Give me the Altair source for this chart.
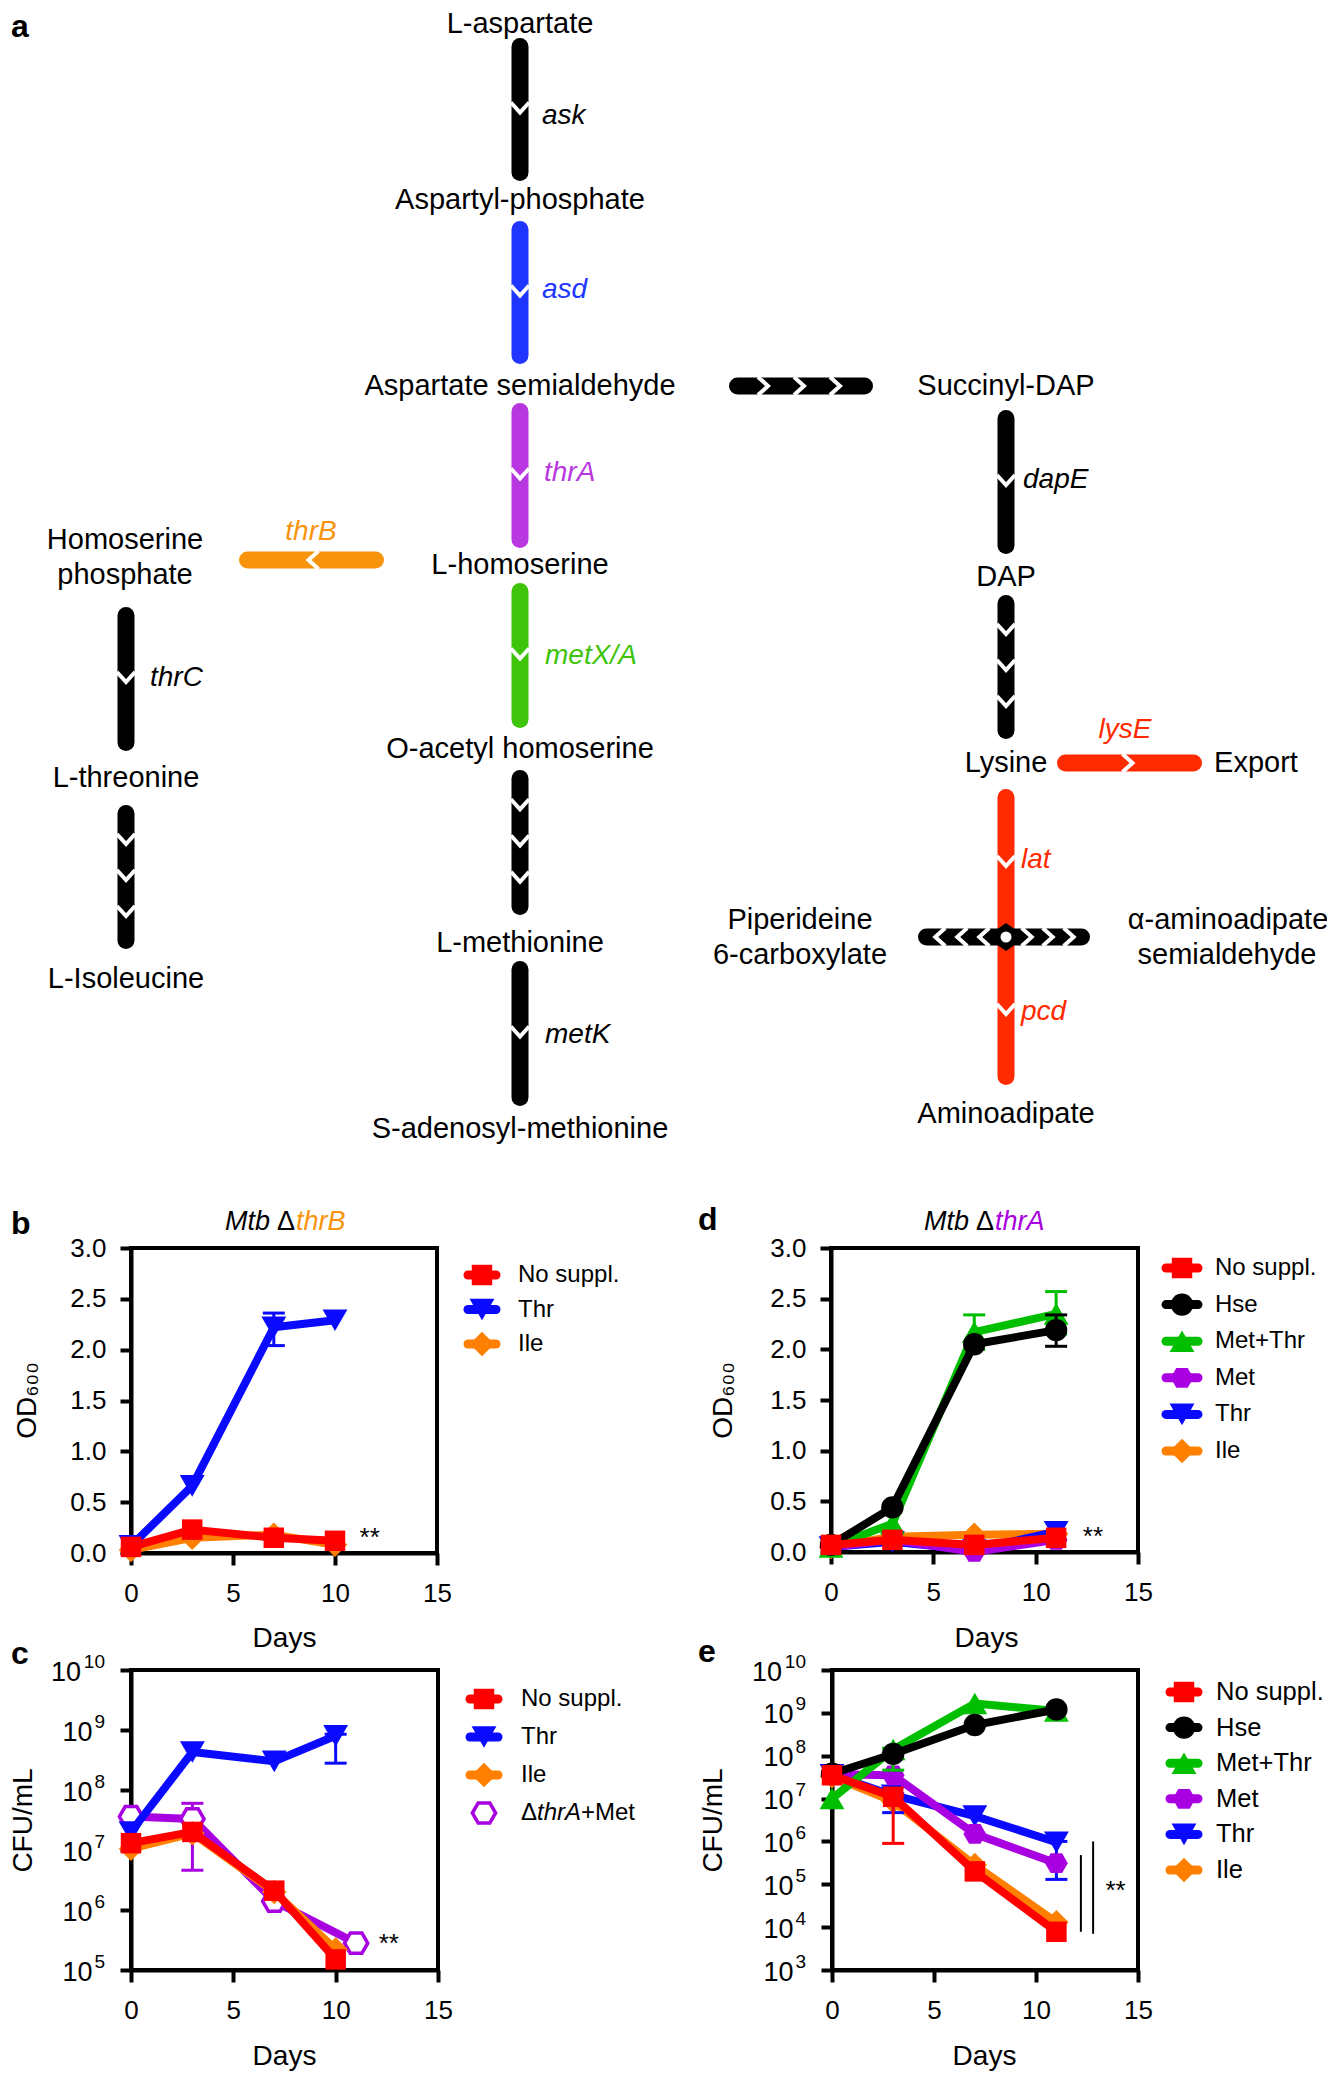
import altair as alt
import pandas as pd
import math

FONT = "Liberation Sans, Arial, Helvetica, sans-serif"
OFF = 8                 # page margin
W, H = 1319, 2065       # drawing area (reference minus margins)

RED = "#ff0000"
BLUE = "#0a0aff"
ORANGE = "#ff8000"
GREEN = "#00bf00"
PURPLE = "#a800e0"
BLACK = "#000000"
C_ASD = "#2035ff"
C_THRA = "#b837e0"
C_METX = "#3ec40a"
C_THRB = "#f7940c"
C_LYS = "#ff2a00"

# ======================= values =======================
X_DOMAIN = [0, 15]
X_TICKS = [0, 5, 10, 15]
OD_DOMAIN = [0, 3]
OD_TICKS = [0, 0.5, 1.0, 1.5, 2.0, 2.5, 3.0]
C_DOMAIN = [1e5, 1e10]
C_TICKS = [1e5, 1e6, 1e7, 1e8, 1e9, 1e10]
C_TICK_BASE = ["10"] * 6
C_TICK_EXP = ["5", "6", "7", "8", "9", "10"]
E_DOMAIN = [1e3, 1e10]
E_TICKS = [1e3, 1e4, 1e5, 1e6, 1e7, 1e8, 1e9, 1e10]
E_TICK_BASE = ["10"] * 8
E_TICK_EXP = ["3", "4", "5", "6", "7", "8", "9", "10"]

# panel b  (Mtb ΔthrB, OD600)
B_SERIES = ["No suppl.", "Thr", "Ile"]
B_DAYS = [0, 3, 7, 10]
B_NO_SUPPL = [0.06, 0.23, 0.15, 0.12]
B_THR = [0.07, 0.66, 2.22, 2.29]
B_ILE = [0.03, 0.15, 0.18, 0.08]
B_ERRORS = [("Thr", 7, 2.04, 2.36)]
B_STARS = [(11.7, 0.22)]

# panel c  (ΔthrB, CFU/mL)
C_SERIES = ["No suppl.", "Thr", "Ile", "ΔthrA+Met"]
C_DAYS = [0, 3, 7, 10]
C_DAYS_THRA = [0, 3, 7, 11]
C_NO_SUPPL = [1.3e7, 2.0e7, 2.1e6, 1.5e5]
C_THR = [2.0e7, 4.3e8, 3.0e8, 8.0e8]
C_ILE = [1.05e7, 1.9e7, 2.0e6, 2.2e5]
C_THRA_MET = [3.6e7, 3.3e7, 1.4e6, 2.8e5]
C_ERRORS = [("Thr", 10, 2.8e8, 8.5e8), ("ΔthrA+Met", 3, 4.6e6, 6.0e7)]
C_STARS = [(12.6, 3.5e5)]

# panel d  (Mtb ΔthrA, OD600)
D_SERIES = ["No suppl.", "Hse", "Met+Thr", "Met", "Thr", "Ile"]
D_DAYS = [0, 3, 7, 11]
D_NO_SUPPL = [0.07, 0.12, 0.07, 0.14]
D_HSE = [0.07, 0.44, 2.05, 2.19]
D_MET_THR = [0.05, 0.28, 2.17, 2.35]
D_MET = [0.05, 0.12, 0.00, 0.12]
D_THR = [0.05, 0.10, 0.02, 0.20]
D_ILE = [0.05, 0.15, 0.17, 0.18]
D_ERRORS = [("Hse", 11, 2.03, 2.34), ("Met+Thr", 7, 2.0, 2.34), ("Met+Thr", 11, 2.15, 2.57)]
D_STARS = [(12.8, 0.22)]

# panel e  (ΔthrA, CFU/mL)
E_SERIES = ["No suppl.", "Hse", "Met+Thr", "Met", "Thr", "Ile"]
E_DAYS = [0, 3, 7, 11]
E_NO_SUPPL = [3.5e7, 1.1e7, 2.0e5, 7.8e3]
E_HSE = [3.8e7, 1.1e8, 5.2e8, 1.2e9]
E_MET_THR = [1.0e7, 1.4e8, 1.65e9, 1.1e9]
E_MET = [3.7e7, 3.5e7, 1.5e6, 3.1e5]
E_THR = [3.6e7, 1.2e7, 3.9e6, 9.6e5]
E_ILE = [3.3e7, 8.5e6, 2.8e5, 1.3e4]
E_ERRORS = [("No suppl.", 3, 9.0e5, 1.2e7), ("Met+Thr", 3, 4.6e7, 1.5e8),
            ("Thr", 3, 4.7e6, 1.3e7), ("Thr", 11, 1.3e5, 1.0e6)]
E_SIG = [(12.2, 7.8e3, 4.8e5), (12.8, 7.0e3, 1.0e6)]
E_STARS = [(13.9, 1.0e5)]

# pathway (panel a)
NODE_LABELS = ["L-aspartate", "Aspartyl-phosphate", "Aspartate semialdehyde", "L-homoserine",
               "O-acetyl homoserine", "L-methionine", "S-adenosyl-methionine",
               "Homoserine", "phosphate", "L-threonine", "L-Isoleucine",
               "Succinyl-DAP", "DAP", "Lysine", "Export",
               "Piperideine", "6-carboxylate", "α-aminoadipate", "semialdehyde", "Aminoadipate"]
GENE_LABELS = ["ask", "asd", "thrA", "metX/A", "metK", "thrC", "dapE", "lat", "pcd", "thrB", "lysE"]
PANEL_LETTERS = ["a", "b", "c", "d", "e"]
TITLE_B = ["Mtb", "Δ", "thrB"]
TITLE_D = ["Mtb", "Δ", "thrA"]
RICH_LABELS = {"ΔthrA+Met": [("Δ", "normal"), ("thrA", "italic"), ("+Met", "normal")]}

# ======================= layout (reference pixels) =======================
NODE_XY = [(520, 24), (520, 200), (520, 386), (520, 565), (520, 749), (520, 943), (520, 1129),
           (125, 540), (125, 575), (126, 778), (126, 979),
           (1006, 386), (1006, 577), (1006, 763), (1256, 763),
           (800, 920), (800, 955), (1228, 920), (1227, 955), (1006, 1114)]
GENE_XY = [(542, 116), (542, 290), (544, 473), (545, 656), (545, 1035), (150, 678),
           (1023, 480), (1021, 860), (1021, 1012), (311, 532), (1125, 730)]
GENE_COLOR = [BLACK, C_ASD, C_THRA, C_METX, BLACK, BLACK, BLACK, C_LYS, C_LYS, C_THRB, C_LYS]
GENE_ALIGN = ["left"] * 9 + ["center"] * 2
ARROWS = [
    ((520, 38), (520, 181), BLACK, [0.5]),
    ((520, 221), (520, 364), C_ASD, [0.5]),
    ((520, 403), (520, 548), C_THRA, [0.5]),
    ((520, 583), (520, 728), C_METX, [0.5]),
    ((520, 770), (520, 915), BLACK, [0.25, 0.5, 0.75]),
    ((520, 961), (520, 1106), BLACK, [0.5]),
    ((384, 560), (239, 560), C_THRB, [0.5]),
    ((126, 607), (126, 751), BLACK, [0.5]),
    ((126, 805), (126, 949), BLACK, [0.25, 0.5, 0.75]),
    ((729, 386), (873, 386), BLACK, [0.25, 0.5, 0.75]),
    ((1006, 410), (1006, 554), BLACK, [0.5]),
    ((1006, 595), (1006, 739), BLACK, [0.25, 0.5, 0.75]),
    ((1057, 763), (1202, 763), C_LYS, [0.5]),
    ((1006, 789), (1006, 1085), C_LYS, [0.25, 0.75]),
    ((1006, 937), (918, 937), BLACK, [0.27, 0.52, 0.77]),
    ((1006, 937), (1090, 937), BLACK, [0.27, 0.52, 0.77]),
]
CROSS_CENTER = [(1006, 937)]
LETTER_XY = [(11, 37), (11, 1234), (11, 1664), (698, 1230), (698, 1662)]
TITLE_B_XY = (286, 1222)
TITLE_D_XY = (985, 1222)

GEO = {
    "b": dict(x0=131, x1=437, ytop=1248, ybot=1553, xtitle=(284, 1638), ytitle=(27, 1400)),
    "d": dict(x0=831, x1=1138, ytop=1248, ybot=1552, xtitle=(986, 1638), ytitle=(723, 1400)),
    "c": dict(x0=131, x1=438, ytop=1670, ybot=1970, xtitle=(284, 2056), ytitle=(23, 1820)),
    "e": dict(x0=832, x1=1138, ytop=1670, ybot=1970, xtitle=(984, 2056), ytitle=(713, 1820)),
}
LEG = {
    "b": dict(rows=(1275, 1344), sym=482, line=(468, 496), text=518, fs=24),
    "c": dict(rows=(1699, 1813), sym=484, line=(470, 498), text=521, fs=24),
    "d": dict(rows=(1268, 1451), sym=1182, line=(1166, 1198), text=1215, fs=24),
    "e": dict(rows=(1692, 1870), sym=1184, line=(1170, 1198), text=1216, fs=25.5),
}

HEX = "M-1,0L-0.5,-0.866L0.5,-0.866L1,0L0.5,0.866L-0.5,0.866Z"
CHEV = "M-1,-1.1L0,0L1,-1.1"
LENS = "M-1,0L0,-0.7L1,0L0,0.7Z"

STYLE = {
    "No suppl.": dict(color=RED, shape="square", size=420),
    "Thr": dict(color=BLUE, shape="triangle-down", size=620),
    "Ile": dict(color=ORANGE, shape="diamond", size=600),
    "Hse": dict(color=BLACK, shape="circle", size=500),
    "Met+Thr": dict(color=GREEN, shape="triangle-up", size=620),
    "Met": dict(color=PURPLE, shape=HEX, size=520),
    "ΔthrA+Met": dict(color=PURPLE, shape=HEX, size=540, open=True),
}


def lin(dom, rng, log=False):
    if log:
        return alt.Scale(type="log", domain=dom, range=rng, nice=False)
    return alt.Scale(domain=dom, range=rng, nice=False, zero=False)


# ======================= panel a =======================
AX = lin([OFF, OFF + W], [0, W])
AY = lin([OFF, OFF + H], [0, H])


def XA(f):
    return alt.X(f, type="quantitative", scale=AX, axis=None)


def YA(f):
    return alt.Y(f, type="quantitative", scale=AY, axis=None)


rule_rows, chev_rows = [], []
R = 8.5
for (p0, p1, col, fr) in ARROWS:
    dx, dy = p1[0] - p0[0], p1[1] - p0[1]
    L = math.hypot(dx, dy)
    ux, uy = dx / L, dy / L
    rule_rows.append(dict(x=p0[0] + ux * R, y=p0[1] + uy * R, x2=p1[0] - ux * R, y2=p1[1] - uy * R, col=col))
    ang = 0 if uy > 0.5 else (270 if ux > 0.5 else 90)
    for f in fr:
        d = f * L + 3
        chev_rows.append(dict(x=p0[0] + ux * d, y=p0[1] + uy * d, ang=ang))
rules_df = pd.DataFrame(rule_rows)
chev_df = pd.DataFrame(chev_rows)
cross_df = pd.DataFrame({"x": [c[0] for c in CROSS_CENTER], "y": [c[1] for c in CROSS_CENTER]})
nodes_df = pd.DataFrame({"label": NODE_LABELS, "x": [p[0] for p in NODE_XY], "y": [p[1] for p in NODE_XY]})
genes_df = pd.DataFrame({"label": GENE_LABELS, "x": [p[0] for p in GENE_XY], "y": [p[1] for p in GENE_XY],
                         "col": GENE_COLOR, "al": GENE_ALIGN})
letters_df = pd.DataFrame({"label": PANEL_LETTERS, "x": [p[0] for p in LETTER_XY], "y": [p[1] for p in LETTER_XY]})

a_layers = [
    alt.Chart(rules_df).mark_rule(strokeWidth=17, strokeCap="round").encode(
        x=XA("x"), y=YA("y"), x2="x2:Q", y2="y2:Q", color=alt.Color("col:N", scale=None)),
    alt.Chart(chev_df).mark_point(shape=CHEV, size=330, filled=False, stroke="white", strokeWidth=4, opacity=1).encode(
        x=XA("x"), y=YA("y"), angle=alt.Angle("ang:Q", scale=None)),
    alt.Chart(cross_df).mark_point(shape=LENS, size=1600, filled=True, color="black", opacity=1, strokeWidth=0).encode(
        x=XA("x"), y=YA("y")),
    alt.Chart(cross_df).mark_point(shape="circle", size=121, filled=True, color="white", opacity=1, strokeWidth=0).encode(
        x=XA("x"), y=YA("y")),
    alt.Chart(nodes_df).mark_text(font=FONT, fontSize=29, color="black", baseline="middle", align="center").encode(
        x=XA("x"), y=YA("y"), text="label:N"),
]
for al in ["left", "center"]:
    a_layers.append(
        alt.Chart(genes_df[genes_df["al"] == al]).mark_text(font=FONT, fontSize=28, fontStyle="italic",
                                                             baseline="middle", align=al).encode(
            x=XA("x"), y=YA("y"), text="label:N", color=alt.Color("col:N", scale=None)))
a_layers.append(
    alt.Chart(letters_df).mark_text(font=FONT, fontSize=32, fontWeight="bold", color="black",
                                    baseline="alphabetic", align="left").encode(
        x=XA("x"), y=YA("y"), text="label:N"))
for parts, (cx, cy), col in [(TITLE_B, TITLE_B_XY, C_THRB), (TITLE_D, TITLE_D_XY, PURPLE)]:
    tdf = pd.DataFrame({"label": parts, "x": [cx] * 3, "y": [cy] * 3})
    a_layers.append(alt.Chart(tdf.iloc[[0]]).mark_text(font=FONT, fontSize=27, fontStyle="italic", color="black",
                                                        align="right", baseline="middle", dx=-16).encode(
        x=XA("x"), y=YA("y"), text="label:N"))
    a_layers.append(alt.Chart(tdf.iloc[[1]]).mark_text(font=FONT, fontSize=27, color="black",
                                                        align="center", baseline="middle").encode(
        x=XA("x"), y=YA("y"), text="label:N"))
    a_layers.append(alt.Chart(tdf.iloc[[2]]).mark_text(font=FONT, fontSize=27, fontStyle="italic", color=col,
                                                        align="left", baseline="middle", dx=10).encode(
        x=XA("x"), y=YA("y"), text="label:N"))
panel_a = alt.layer(*a_layers)


# ======================= plot panels =======================
def point_mark(base, st):
    if st.get("open"):
        return base.mark_point(shape=st["shape"], size=st["size"], filled=True, fill="white",
                               stroke=st["color"], strokeWidth=3.5, opacity=1)
    return base.mark_point(shape=st["shape"], size=st["size"], filled=True, color=st["color"],
                           opacity=1, strokeWidth=0)


def plot_panel(geo, series, days, values, errors, ydom, yticks, log, tick_base, tick_exp, ytitle, stars, sig=None):
    xs = lin(X_DOMAIN, [geo["x0"] - OFF, geo["x1"] - OFF])
    ys = lin(ydom, [geo["ybot"] - OFF, geo["ytop"] - OFF], log)
    xaxis = alt.Axis(orient="bottom", offset=(geo["ybot"] - OFF) - H, values=X_TICKS, format="d",
                     domain=True, domainColor="black", domainWidth=4,
                     ticks=True, tickColor="black", tickWidth=4, tickSize=12,
                     labelFont=FONT, labelFontSize=26, labelColor="black", labelPadding=15,
                     labelFlush=False, labelOverlap=False, grid=False,
                     title="Days", titleFont=FONT, titleFontSize=28, titleFontWeight="normal",
                     titleColor="black", titleX=geo["xtitle"][0] - OFF, titleY=geo["xtitle"][1] - geo["ybot"],
                     titleAlign="center", titleBaseline="middle", titleAngle=0)
    ykw = dict(orient="left", offset=-(geo["x0"] - OFF), values=yticks,
               domain=True, domainColor="black", domainWidth=4,
               ticks=True, tickColor="black", tickWidth=4, tickSize=11,
               labelFont=FONT, labelFontSize=26, labelColor="black", labelPadding=14,
               labelFlush=False, labelOverlap=False, grid=False,
               title=ytitle, titleFont=FONT, titleFontSize=28, titleFontWeight="normal",
               titleColor="black", titleX=geo["ytitle"][0] - geo["x0"], titleY=geo["ytitle"][1] - OFF,
               titleAlign="center", titleBaseline="middle", titleAngle=270)
    if log:
        ykw["labels"] = False
    else:
        ykw["format"] = ".1f"
    yaxis = alt.Axis(**ykw)

    def X(f):
        return alt.X(f, type="quantitative", scale=xs, axis=xaxis)

    def Y(f):
        return alt.Y(f, type="quantitative", scale=ys, axis=yaxis)

    layers = []
    frame = pd.DataFrame({"day": [X_DOMAIN[0]], "day2": [X_DOMAIN[1]], "v": [ydom[0]], "v2": [ydom[1]]})
    layers.append(alt.Chart(frame).mark_rect(fillOpacity=0, stroke="black", strokeWidth=4).encode(
        x=X("day"), x2="day2:Q", y=Y("v"), y2="v2:Q"))
    if log:
        # "10" with a superscript exponent, right-aligned as one label
        lab_right = geo["x0"] - 26 - OFF
        for base_txt, exp_txt, val in zip(tick_base, tick_exp, yticks):
            ew = 11.5 * len(exp_txt) + 1
            ldf = pd.DataFrame({"v": [val], "b": [base_txt], "e": [exp_txt]})
            layers.append(alt.Chart(ldf).mark_text(font=FONT, fontSize=27, color="black", align="right",
                                                   baseline="middle", dy=2.5, dx=-ew).encode(
                x=alt.value(lab_right), y=Y("v"), text="b:N"))
            layers.append(alt.Chart(ldf).mark_text(font=FONT, fontSize=19, color="black", align="right",
                                                   baseline="middle", dy=-8.5).encode(
                x=alt.value(lab_right), y=Y("v"), text="e:N"))
    for name in reversed(series):
        st = STYLE[name]
        c = st["color"]
        df = pd.DataFrame({"day": days[name], "v": values[name]})
        layers.append(alt.Chart(df).mark_line(color=c, strokeWidth=8, strokeJoin="round", strokeCap="round").encode(
            x=X("day"), y=Y("v")))
        errs = [e for e in errors if e[0] == name]
        if errs:
            edf = pd.DataFrame({"day": [e[1] for e in errs], "lo": [e[2] for e in errs], "hi": [e[3] for e in errs]})
            layers.append(alt.Chart(edf).mark_rule(color=c, strokeWidth=3).encode(x=X("day"), y=Y("lo"), y2="hi:Q"))
            for f in ("lo", "hi"):
                layers.append(alt.Chart(edf).mark_point(shape="stroke", size=22 * 22, filled=False, stroke=c,
                                                        strokeWidth=3, opacity=1).encode(x=X("day"), y=Y(f)))
        layers.append(point_mark(alt.Chart(df), st).encode(x=X("day"), y=Y("v")))
    if sig:
        sdf = pd.DataFrame({"day": [s[0] for s in sig], "lo": [s[1] for s in sig], "hi": [s[2] for s in sig]})
        layers.append(alt.Chart(sdf).mark_rule(color="black", strokeWidth=2).encode(x=X("day"), y=Y("lo"), y2="hi:Q"))
    stdf = pd.DataFrame({"day": [s[0] for s in stars], "v": [s[1] for s in stars], "t": ["**"] * len(stars)})
    layers.append(alt.Chart(stdf).mark_text(font=FONT, fontSize=26, color="black", align="center",
                                            baseline="middle", dy=7).encode(x=X("day"), y=Y("v"), text="t:N"))
    return alt.layer(*layers)


def legend_panel(lg, names):
    n = len(names)
    ys = lin([0, n - 1], [lg["rows"][0] - OFF, lg["rows"][1] - OFF])
    Y = alt.Y("row:Q", scale=ys, axis=None)
    layers = []
    for i, name in enumerate(names):
        st = STYLE[name]
        base = alt.Chart(pd.DataFrame({"row": [i], "label": [name]}))
        if not st.get("open"):
            layers.append(base.mark_rule(color=st["color"], strokeWidth=9, strokeCap="round").encode(
                x=alt.value(lg["line"][0] - OFF), x2=alt.value(lg["line"][1] - OFF), y=Y))
        layers.append(point_mark(base, st).encode(x=alt.value(lg["sym"] - OFF), y=Y))
        if name in RICH_LABELS:
            dxs = [0, 16, 60]
            for (txt, style), dx in zip(RICH_LABELS[name], dxs):
                pb = alt.Chart(pd.DataFrame({"row": [i], "label": [txt]}))
                layers.append(pb.mark_text(font=FONT, fontSize=lg["fs"], fontStyle=style, color="black",
                                           align="left", baseline="middle", dx=dx).encode(
                    x=alt.value(lg["text"] - OFF), y=Y, text="label:N"))
        else:
            layers.append(base.mark_text(font=FONT, fontSize=lg["fs"], color="black", align="left",
                                         baseline="middle").encode(
                x=alt.value(lg["text"] - OFF), y=Y, text="label:N"))
    return alt.layer(*layers)


panel_b = plot_panel(GEO["b"], B_SERIES,
                     {"No suppl.": B_DAYS, "Thr": B_DAYS, "Ile": B_DAYS},
                     {"No suppl.": B_NO_SUPPL, "Thr": B_THR, "Ile": B_ILE},
                     B_ERRORS, OD_DOMAIN, OD_TICKS, False, None, None, "OD₆₀₀", B_STARS)
panel_c = plot_panel(GEO["c"], C_SERIES,
                     {"No suppl.": C_DAYS, "Thr": C_DAYS, "Ile": C_DAYS, "ΔthrA+Met": C_DAYS_THRA},
                     {"No suppl.": C_NO_SUPPL, "Thr": C_THR, "Ile": C_ILE, "ΔthrA+Met": C_THRA_MET},
                     C_ERRORS, C_DOMAIN, C_TICKS, True, C_TICK_BASE, C_TICK_EXP, "CFU/mL", C_STARS)
panel_d = plot_panel(GEO["d"], D_SERIES,
                     {k: D_DAYS for k in D_SERIES},
                     {"No suppl.": D_NO_SUPPL, "Hse": D_HSE, "Met+Thr": D_MET_THR, "Met": D_MET,
                      "Thr": D_THR, "Ile": D_ILE},
                     D_ERRORS, OD_DOMAIN, OD_TICKS, False, None, None, "OD₆₀₀", D_STARS)
panel_e = plot_panel(GEO["e"], E_SERIES,
                     {k: E_DAYS for k in E_SERIES},
                     {"No suppl.": E_NO_SUPPL, "Hse": E_HSE, "Met+Thr": E_MET_THR, "Met": E_MET,
                      "Thr": E_THR, "Ile": E_ILE},
                     E_ERRORS, E_DOMAIN, E_TICKS, True, E_TICK_BASE, E_TICK_EXP, "CFU/mL", E_STARS, sig=E_SIG)

chart = alt.layer(
    panel_a,
    panel_b, legend_panel(LEG["b"], B_SERIES),
    panel_c, legend_panel(LEG["c"], C_SERIES),
    panel_d, legend_panel(LEG["d"], D_SERIES),
    panel_e, legend_panel(LEG["e"], E_SERIES),
).resolve_scale(x="independent", y="independent").resolve_axis(
    x="independent", y="independent"
).properties(
    width=W, height=H, padding=0, autosize=alt.AutoSizeParams(type="none")
).configure_view(stroke=None)

chart.save("out.html", embed_options={"renderer": "svg", "actions": False})
